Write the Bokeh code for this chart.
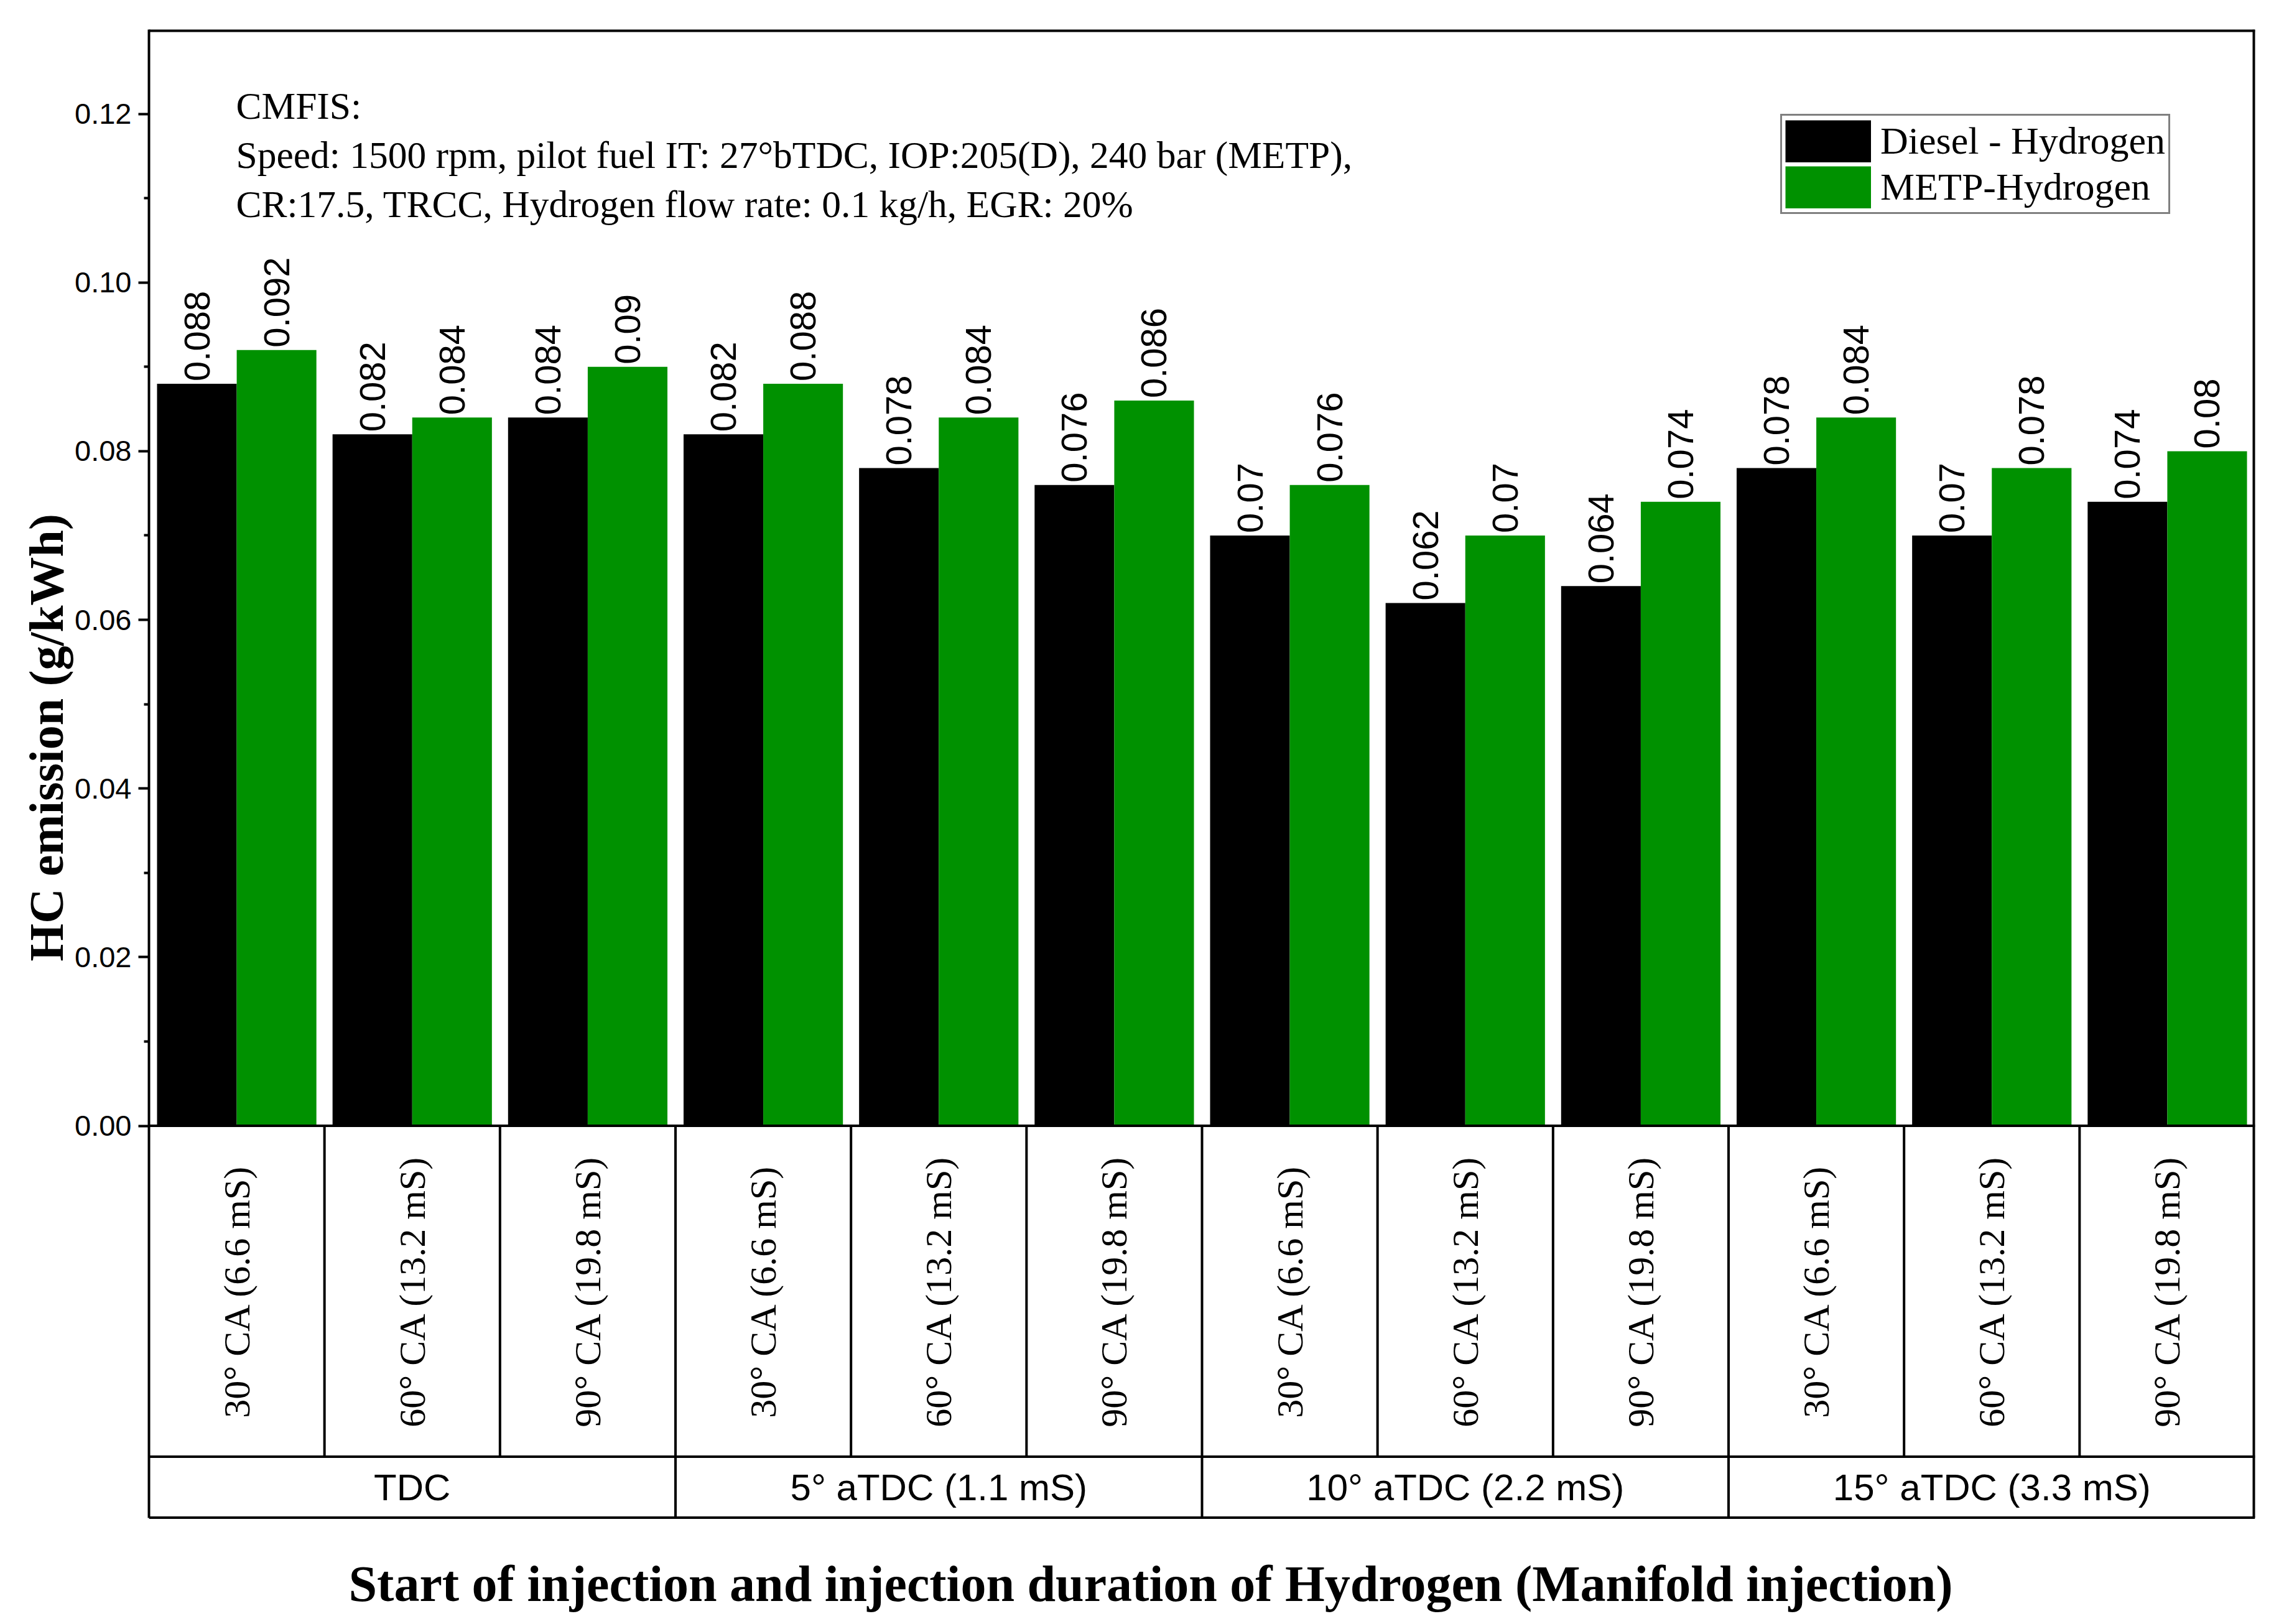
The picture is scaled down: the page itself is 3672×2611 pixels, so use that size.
import math
from bokeh.plotting import figure
from bokeh.models import Label, Title, FixedTicker, NumeralTickFormatter, Range1d, ColumnDataSource
from bokeh.embed import file_html
from bokeh.resources import INLINE
from bokeh.core.properties import value

# ---------------- data ----------------
groups = ["TDC", "5° aTDC (1.1 mS)", "10° aTDC (2.2 mS)", "15° aTDC (3.3 mS)"]
durations = ["30° CA (6.6 mS)", "60° CA (13.2 mS)", "90° CA (19.8 mS)"]
series_names = ["Diesel - Hydrogen", "METP-Hydrogen"]
diesel_h2 = [0.088, 0.082, 0.084, 0.082, 0.078, 0.076, 0.070, 0.062, 0.064, 0.078, 0.070, 0.074]
metp_h2 = [0.092, 0.084, 0.090, 0.088, 0.084, 0.086, 0.076, 0.070, 0.074, 0.084, 0.078, 0.080]
y_ticks = [0.00, 0.02, 0.04, 0.06, 0.08, 0.10, 0.12]
y_minor_ticks = [0.01, 0.03, 0.05, 0.07, 0.09, 0.11]
note_lines = [
    "CMFIS:",
    "Speed: 1500 rpm, pilot fuel IT: 27°bTDC, IOP:205(D), 240 bar (METP),",
    "CR:17.5, TRCC, Hydrogen flow rate: 0.1 kg/h, EGR: 20%",
]
x_title = "Start of injection and injection duration of Hydrogen (Manifold injection)"
y_title = "HC emission (g/kWh)"

# ---------------- layout constants ----------------
W, H = 3664, 2603
TOP = 47
PX = 13558.0              # pixels per y unit
Y_MAX = 0.1300
Y_MIN = -0.04647          # bottom of the category table
ROW1 = -0.03924           # separator between duration row and group row
Y_BOT = Y_MAX - (H - TOP) / PX   # frame runs to the bottom of the canvas
SERIF = "Liberation Serif"
SANS = "Liberation Sans"
GREEN = "#009100"

categories = [d for g in groups for d in durations]
n = len(categories)
xc = [i + 0.5 for i in range(n)]
bw = 0.454

p = figure(width=W, height=H, output_backend="svg", toolbar_location=None,
           x_range=Range1d(0, n), y_range=Range1d(Y_BOT, Y_MAX),
           x_axis_location=None, title=None,
           min_border_left=239, min_border_right=39, min_border_top=TOP, min_border_bottom=0)
p.background_fill_color = "white"
p.border_fill_color = "white"
p.outline_line_color = None
p.grid.visible = False

src = ColumnDataSource(dict(
    xd=[c - bw / 2 for c in xc],
    xm=[c + bw / 2 for c in xc],
    d=diesel_h2,
    m=metp_h2,
    dl=[f"{v:g}" for v in diesel_h2],
    ml=[f"{v:g}" for v in metp_h2],
    dy=[v + 4 / PX for v in diesel_h2],
    my=[v + 4 / PX for v in metp_h2],
))

p.vbar(x="xd", top="d", bottom=0, width=bw, source=src, fill_color="black", line_color=None)
p.vbar(x="xm", top="m", bottom=0, width=bw, source=src, fill_color=GREEN, line_color=None)

for xk, yk, tk in (("xd", "dy", "dl"), ("xm", "my", "ml")):
    p.text(x=xk, y=yk, text=tk, source=src, angle=math.pi / 2,
           text_align="left", text_baseline="middle",
           text_font=value(SANS), text_font_size="58px", text_color="black")

# ---------------- frame and category table ----------------
# frame edges (top and right lie on the clip edge, so they are drawn twice as wide)
p.segment(x0=[0, n], y0=[Y_MAX, Y_MIN], x1=[n, n], y1=[Y_MAX, Y_MAX],
          line_color="black", line_width=8)
seg_x0 = [0, 0, 0]
seg_x1 = [n, n, n]
seg_y0 = [0, ROW1, Y_MIN]
seg_y1 = [0, ROW1, Y_MIN]
for k in range(1, n):
    seg_x0.append(k)
    seg_x1.append(k)
    seg_y0.append(0)
    seg_y1.append(Y_MIN if k % len(durations) == 0 else ROW1)
p.segment(x0=seg_x0, y0=seg_y0, x1=seg_x1, y1=seg_y1, line_color="black", line_width=4)

p.text(x=xc, y=[ROW1 / 2] * n, text=categories, angle=math.pi / 2,
       text_align="center", text_baseline="middle",
       text_font=value(SERIF), text_font_size="60px", text_color="black")

gsize = len(durations)
p.text(x=[g * gsize + gsize / 2 for g in range(len(groups))],
       y=[(ROW1 + Y_MIN) / 2] * len(groups), text=groups,
       text_align="center", text_baseline="middle",
       text_font=value(SANS), text_font_size="60px", text_color="black")

# x title, below the table
p.text(x=[321 / (3386 / n)], y=[(1810 - 2546) / PX], text=[x_title],
       text_align="left", text_baseline="middle",
       text_font=value(SERIF), text_font_style="bold", text_font_size="82px",
       text_color="black")

# ---------------- y axis ----------------
ax = p.yaxis[0]
ax.bounds = (Y_MIN, Y_MAX)
ax.ticker = FixedTicker(ticks=y_ticks, minor_ticks=y_minor_ticks)
ax.formatter = NumeralTickFormatter(format="0.00")
ax.axis_line_color = "black"
ax.axis_line_width = 4
ax.major_tick_line_color = "black"
ax.major_tick_line_width = 4
ax.major_tick_in = 0
ax.major_tick_out = 17
ax.minor_tick_line_color = "black"
ax.minor_tick_line_width = 4
ax.minor_tick_in = 0
ax.minor_tick_out = 8
ax.major_label_text_font = SANS
ax.major_label_text_font_size = "47px"
ax.major_label_text_color = "black"
ax.major_label_standoff = 11

p.add_layout(Title(text=y_title, align="left", offset=(H - 1545), standoff=0,
                   text_font=SERIF, text_font_style="bold", text_font_size="78px",
                   text_color="black"), "left")

# ---------------- notes ----------------
note_y = [(1810 - b) / PX for b in (170, 249, 328)]
for txt, yy in zip(note_lines, note_y):
    p.add_layout(Label(x=0.496, y=yy, text=txt, text_font=SERIF, text_font_size="61.5px",
                       text_color="black", text_align="left", text_baseline="alphabetic"))

# ---------------- legend (swatches drawn as thick legend lines; the lines
# themselves lie outside the visible range) ----------------
for name, col in zip(series_names, ["black", GREEN]):
    p.line(x=[0, n], y=[Y_BOT - 1, Y_BOT - 1], line_color=col, line_width=68,
           line_cap="butt", legend_label=name)

lg = p.legend[0]
lg.location = "top_right"
lg.margin = 136
lg.padding = 5
lg.spacing = 3
lg.glyph_width = 138
lg.glyph_height = 68
lg.label_height = 68
lg.label_standoff = 15
lg.label_text_font = SERIF
lg.label_text_font_size = "62px"
lg.label_text_color = "black"
lg.border_line_color = "black"
lg.border_line_width = 3
lg.background_fill_color = "white"
lg.background_fill_alpha = 1.0

open("out.html", "w").write(file_html(p, INLINE))
